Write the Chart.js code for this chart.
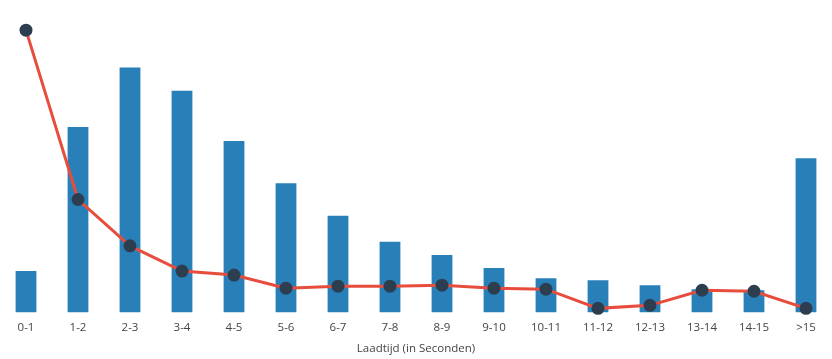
<!DOCTYPE html>
<html>
<head>
<meta charset="utf-8">
<script src="https://cdn.jsdelivr.net/npm/chart.js@4"></script>
<style>
  html, body { margin: 0; padding: 0; background: #fff; }
  #wrap { width: 832px; height: 359px; }
</style>
</head>
<body>
<div id="wrap"><canvas id="c"></canvas></div>
<script>
// categorieen en waarden
var categories = ["0-1", "1-2", "2-3", "3-4", "4-5", "5-6", "6-7", "7-8", "8-9", "9-10", "10-11", "11-12", "12-13", "13-14", "14-15", ">15"];
var barValues  = [41, 184, 243, 220, 170, 128, 96, 70, 57, 44, 34, 32, 27, 23, 22, 153];
var lineValues = [280, 112, 66, 41, 37, 24, 26, 26, 27, 24, 23, 4, 7, 22, 21, 4];
var axisTitle  = "Laadtijd (in Seconden)";

Chart.defaults.font.family = "'Open Sans', sans-serif";

new Chart(document.getElementById("c"), {
  type: "bar",
  data: {
    labels: categories,
    datasets: [
      {
        type: "line", label: "lijn",
        data: lineValues,
        borderColor: "#e74c3c", borderWidth: 3,
        pointBackgroundColor: "#2c3e50", pointBorderColor: "#2c3e50",
        pointRadius: 5, tension: 0, clip: false,
        yAxisID: "y1", order: 0
      },
      {
        type: "bar", label: "balk",
        data: barValues,
        backgroundColor: "#2980b9",
        barPercentage: 0.4, categoryPercentage: 1,
        yAxisID: "y", order: 1
      }
    ]
  },
  options: {
    responsive: true, maintainAspectRatio: false,
    animation: false,
    layout: { autoPadding: false, padding: { top: 12, left: 0, right: 0, bottom: 3 } },
    plugins: { legend: { display: false }, tooltip: { enabled: false } },
    scales: {
      x: {
        grid: { display: false, drawTicks: false }, border: { display: false },
        ticks: { font: { size: 11.5 }, color: "#444", padding: 8, maxRotation: 0, autoSkip: false },
        title: { display: true, text: axisTitle, font: { size: 11.5 }, color: "#444", padding: { top: 0, bottom: 0 } }
      },
      y:  { display: false, min: 0, max: 298 },
      y1: { display: false, min: 0, max: 298 }
    }
  }
});
</script>
</body>
</html>
